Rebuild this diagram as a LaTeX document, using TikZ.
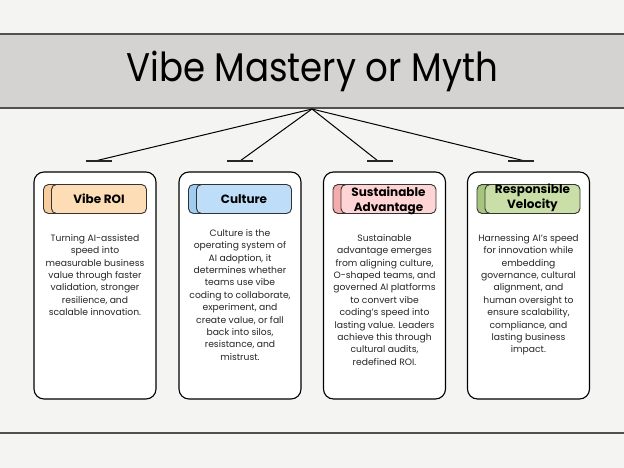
\documentclass[tikz,border=0pt]{standalone}
\usepackage{fontspec}
\setmainfont{Poppins}
\newfontfamily\titlefont{Poppins}[FakeStretch=0.89]
\definecolor{paper}{RGB}{244,244,243}
\definecolor{bandgray}{RGB}{212,211,209}
\definecolor{bandline}{RGB}{80,80,80}
\definecolor{roifront}{RGB}{253,221,181}
\definecolor{roiback}{RGB}{249,204,158}
\definecolor{culfront}{RGB}{189,221,249}
\definecolor{culback}{RGB}{160,204,242}
\definecolor{susfront}{RGB}{255,212,212}
\definecolor{susback}{RGB}{246,172,172}
\definecolor{resfront}{RGB}{201,223,167}
\definecolor{resback}{RGB}{168,197,128}

\tikzset{
  band/.style={fill=bandgray, minimum width=630pt, minimum height=74pt, inner sep=0pt,
    font=\titlefont\fontsize{40}{40}\selectfont},
  card/.style={draw=black, line width=1.1pt, rounded corners=10pt, fill=white,
    minimum width=122pt, minimum height=227pt, inner sep=0pt},
  pill/.style={draw=black!80, line width=0.9pt, rounded corners=5pt,
    minimum width=95pt, minimum height=29pt, inner sep=0pt},
  headtext/.style={align=center, inner sep=0pt, font=\bfseries\fontsize{12}{15}\selectfont},
  blurb/.style={anchor=north, align=center, inner sep=0pt, text=black!85,
    font=\fontsize{9.2}{12.4}\selectfont},
}

\begin{document}
\begin{tikzpicture}[x=1pt,y=-1pt]

  \useasboundingbox (0,0) rectangle (624,468);
  \fill[paper] (0,0) rectangle (624,468);

  % Title band
  \node[band] (band) at (312,71) {Vibe Mastery or Myth};
  \draw[bandline, line width=1.6pt] (0,34) -- (624,34);
  \draw[bandline, line width=1.6pt] (0,108) -- (624,108);
  \coordinate (apex) at (312,109);

  % Connectors to the four cards, each ending on a short bar
  \foreach \i/\ex/\tx in {1/95/99, 2/240/240, 3/378/380, 4/525/521}{
    \coordinate (e\i) at (\ex,161);
    \draw[line width=1pt] (apex) -- (e\i);
    \draw[line width=1.2pt, black!85] (\tx-13,161) -- (\tx+13,161);
  }

  % Cards with their header pills
  \foreach \i/\cx/\front/\back in {1/95/roifront/roiback, 2/240/culfront/culback,
      3/384.5/susfront/susback, 4/528.5/resfront/resback}{
    \node[card] (card\i) at (\cx,285.5) {};
    \node[pill, fill=\back] (back\i) at (\cx-4,199) {};
    \node[pill, fill=\front] (head\i) at (\cx+4,199) {};
  }

  \node[headtext] at (head1) {Vibe ROI};
  \node[headtext] at (head2) {Culture};
  \node[headtext] at ([yshift=-1.5pt]head3) {Sustainable\\Advantage};
  \node[headtext] at ([yshift=1.5pt]head4) {Responsible\\Velocity};

  % Card texts
  \node[blurb] (text1) at (95,234) {Turning AI-assisted\\speed into\\measurable business\\value through faster\\validation, stronger\\resilience, and\\scalable innovation.};
  \node[blurb] (text2) at (240,229) {Culture is the\\operating system of\\AI adoption, it\\determines whether\\teams use vibe\\coding to collaborate,\\experiment, and\\create value, or fall\\back into silos,\\resistance, and\\mistrust.};
  \node[blurb] (text3) at (384.5,234) {Sustainable\\advantage emerges\\from aligning culture,\\O-shaped teams, and\\governed AI platforms\\to convert vibe\\coding's speed into\\lasting value. Leaders\\achieve this through\\cultural audits,\\redefined ROI.};
  \node[blurb] (text4) at (528.5,234) {Harnessing AI's speed\\for innovation while\\embedding\\governance, cultural\\alignment, and\\human oversight to\\ensure scalability,\\compliance, and\\lasting business\\impact.};

  % Bottom rule
  \draw[bandline, line width=1.4pt] (0,433) -- (624,433);

\end{tikzpicture}
\end{document}
